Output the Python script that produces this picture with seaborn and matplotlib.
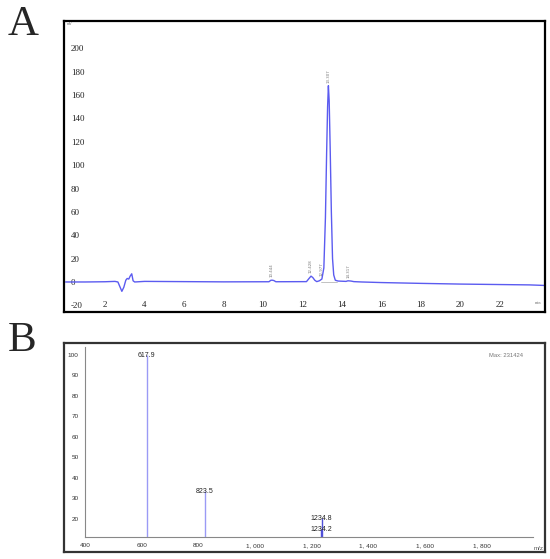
import matplotlib
matplotlib.use("Agg")
import matplotlib.pyplot as plt
import seaborn as sns
import pandas as pd
from matplotlib.ticker import MultipleLocator, FuncFormatter

sns.set_style("white")
plt.rcParams['font.family'] = ['Liberation Serif', 'DejaVu Serif']

# ---------------- data: panel A (HPLC chromatogram) ----------------
time_min = [0.0, 1.0, 2.0, 2.5, 2.65, 2.75, 2.85, 2.95, 3.05, 3.12, 3.2, 3.27, 3.35, 3.42,
            3.5, 4.0, 6.0, 8.0, 10.3, 10.4, 10.48, 10.55, 10.65, 12.2, 12.33, 12.43,
            12.52, 12.62, 12.72, 12.85, 12.98, 13.08, 13.16, 13.22, 13.27, 13.31,
            13.35, 13.4, 13.46, 13.52, 13.58, 13.66, 13.8, 14.2, 14.3, 14.45, 14.6,
            15.0, 16.0, 18.0, 20.0, 22.0, 23.5, 24.3]
signal_mv = [0.0, 0.0, 0.2, 0.5, 0.0, -4.0, -8.0, -4.5, 1.5, 3.0, 2.5, 5.0, 7.0, 1.0,
             0.0, 0.5, 0.3, 0.1, 0.2, 1.5, 1.5, 1.2, 0.2, 0.3, 3.0, 5.0,
             3.8, 1.5, 0.3, 1.0, 2.5, 12.0, 55.0, 110.0, 150.0, 168.0,
             155.0, 115.0, 60.0, 20.0, 6.0, 1.5, 0.8, 0.5, 1.0, 0.8, 0.3,
             0.0, -0.5, -1.2, -1.8, -2.2, -2.5, -3.0]
peak_rt = [10.44, 12.43, 12.98, 13.31, 14.31]
peak_rt_labels = ["10.444", "12.428", "12.977", "13.307", "14.317"]
peak_label_mv = [1.5, 5.0, 2.5, 168.0, 1.0]
a_xticks = [2, 4, 6, 8, 10, 12, 14, 16, 18, 20, 22]
a_yticks = [-20, 0, 20, 40, 60, 80, 100, 120, 140, 160, 180, 200]

# ---------------- data: panel B (mass spectrum) ----------------
mz = [617.9, 823.5, 1234.8, 1234.2]
mz_labels = ["617.9", "823.5", "1234.8", "1234.2"]
rel_intensity = [100.0, 33.5, 20.5, 15.0]
b_xticks = [400, 600, 800, 1000, 1200, 1400, 1600, 1800]
b_yticks = [20, 30, 40, 50, 60, 70, 80, 90, 100]
max_text = "Max: 231424"

fig = plt.figure(figsize=(5.5, 5.59), dpi=100)
W, H = 550.0, 559.0

def rect(x0, y0, x1, y1):
    return [x0 / W, 1 - y1 / H, (x1 - x0) / W, (y1 - y0) / H]

# ---------------- Panel A ----------------
axA = fig.add_axes(rect(64, 21, 545, 312))
dfA = pd.DataFrame({"t": time_min, "mV": signal_mv})
sns.lineplot(data=dfA, x="t", y="mV", ax=axA, color="#5b5bf0", linewidth=1.0)
axA.set_xlim(-0.08, 24.28)
axA.set_ylim(-25.7, 223.4)
axA.set_xlabel("")
axA.set_ylabel("")
axA.set_xticks(a_xticks)
axA.set_yticks(a_yticks)
axA.set_xticklabels([str(v) for v in a_xticks])
axA.set_yticklabels([str(v) for v in a_yticks])
axA.tick_params(axis="y", direction="in", length=3, width=0.6, pad=-5, labelsize=6.5, colors="#222222")
axA.tick_params(axis="x", direction="in", length=3, width=0.6, pad=-2, labelsize=6.5, colors="#222222")
for lab in axA.get_yticklabels():
    lab.set_horizontalalignment("left")
for lab in axA.get_xticklabels():
    lab.set_verticalalignment("bottom")
for s in axA.spines.values():
    s.set_linewidth(1.6)
    s.set_color("black")
# baseline segment under main peak
axA.plot([12.95, 13.75], [0.3, 0.3], color="#aaaaaa", lw=0.5)
for rt, lab, h in zip(peak_rt, peak_rt_labels, peak_label_mv):
    axA.annotate(lab, (rt, h), xytext=(0, 2), textcoords="offset points",
                 rotation=90, fontsize=2.8, color="#777777", ha="center", va="bottom",
                 family=["DejaVu Sans"])
axA.text(0.006, 0.995, "mV", transform=axA.transAxes, fontsize=2.8, color="#666666",
         ha="left", va="top")
axA.text(0.993, 0.03, "min", transform=axA.transAxes, fontsize=3.0, color="#666666",
         ha="right", va="center")

fig.text(8 / W, 1 - 25 / H, "A", fontsize=31, ha="left", va="center")
fig.text(8 / W, 1 - 341 / H, "B", fontsize=31, ha="left", va="center")

# ---------------- Panel B ----------------
frame = fig.add_axes(rect(64, 343, 545, 552))
frame.set_xticks([])
frame.set_yticks([])
for s in frame.spines.values():
    s.set_linewidth(1.6)
    s.set_color("#333333")
frame.set_zorder(0)

axB = fig.add_axes(rect(85, 347, 533, 537))
axB.set_zorder(1)
axB.patch.set_alpha(0)
bfont = ["Liberation Sans", "DejaVu Sans"]
colors_b = ["#9a9af5", "#9a9af5", "#5050d8", "#5050d8"]
axB.vlines(mz, 0, rel_intensity, colors=colors_b, linewidth=1.0)
axB.set_xlim(400, 1981)
axB.set_ylim(11.2, 103.9)
axB.spines["top"].set_visible(False)
axB.spines["right"].set_visible(False)
for s in ["left", "bottom"]:
    axB.spines[s].set_linewidth(0.8)
    axB.spines[s].set_color("#888888")
axB.set_xticks(b_xticks)
axB.set_yticks(b_yticks)
axB.xaxis.set_minor_locator(MultipleLocator(50))
axB.yaxis.set_minor_locator(MultipleLocator(2))
axB.xaxis.set_major_formatter(FuncFormatter(lambda v, p: f"{int(v):,}".replace(",", ", ")))
axB.yaxis.set_major_formatter(FuncFormatter(lambda v, p: f"{int(v)}"))
axB.tick_params(which="major", direction="out", length=2.5, width=0.5, colors="#888888",
                labelcolor="#333333", labelsize=4.6, pad=2)
axB.tick_params(which="minor", direction="out", length=1.3, width=0.4, colors="#999999")
for lab in axB.get_xticklabels() + axB.get_yticklabels():
    lab.set_family(bfont)
for x, lab, h in zip(mz, mz_labels, rel_intensity):
    axB.annotate(lab, (x, h), xytext=(0, -3), textcoords="offset points",
                 ha="center", va="bottom", fontsize=5.0, color="#222222", family=bfont)
axB.text(0.94, 0.955, max_text, transform=axB.transAxes, fontsize=4.2, color="#777777",
         ha="center", va="center", family=bfont)
axB.text(1.012, -0.045, "m/z", transform=axB.transAxes, fontsize=4.5, color="#555555",
         ha="center", va="top", family=bfont)

fig.savefig("out.png", dpi=100, facecolor="white")
